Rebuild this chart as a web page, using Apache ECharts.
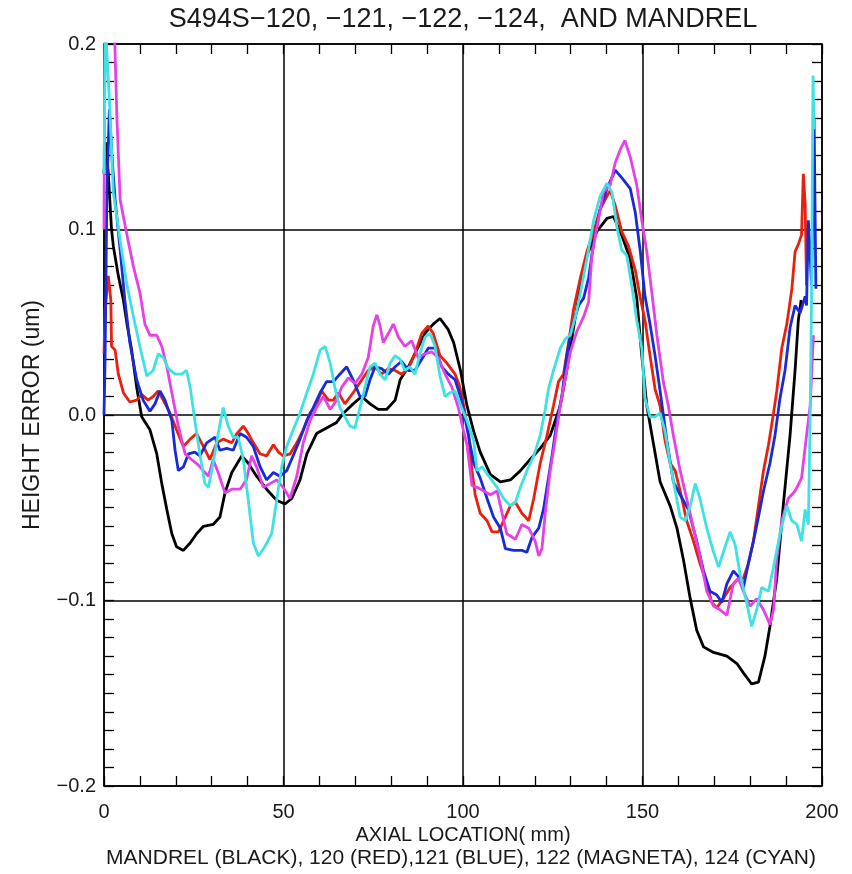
<!DOCTYPE html>
<html>
<head>
<meta charset="utf-8">
<script src="https://cdn.jsdelivr.net/npm/echarts@6/dist/echarts.min.js"></script>
<style>
  html, body { margin: 0; padding: 0; background: #fff; }
  #chart { width: 852px; height: 874px; }
</style>
</head>
<body>
<div id="chart"></div>
<script>
// Height error profiles along the axial location, [mm, um] pairs per part.
const mandrel = [[0,0.13],[0.5,0.147],[1.2,0.13],[2.1,0.10],[2.6,0.091],[4,0.075],[5.4,0.062],[6.5,0.048],[7.7,0.035],[9.1,0.015],[10.5,-0.001],[12.8,-0.008],[14.7,-0.021],[16.1,-0.037],[17.5,-0.051],[18.9,-0.064],[20.2,-0.071],[22.1,-0.073],[24.0,-0.069],[25.8,-0.064],[27.7,-0.060],[30.4,-0.059],[32.3,-0.055],[33.7,-0.042],[35.6,-0.031],[38.4,-0.022],[40.2,-0.026],[42.5,-0.033],[45.3,-0.040],[48.1,-0.046],[50.4,-0.048],[52.3,-0.045],[54.6,-0.035],[56.5,-0.021],[59.2,-0.010],[62.0,-0.007],[64.8,-0.004],[66.7,0.001],[69.4,0.006],[71.8,0.010],[74.1,0.006],[76.4,0.003],[78.7,0.003],[81.1,0.008],[82.5,0.019],[84.8,0.026],[87.1,0.035],[89.4,0.044],[91.7,0.049],[93.6,0.052],[95.9,0.046],[97.4,0.039],[99.3,0.024],[101.1,0.005],[103.0,-0.009],[104.8,-0.020],[107.6,-0.032],[110.4,-0.036],[113.2,-0.035],[116.0,-0.030],[118.7,-0.024],[121.5,-0.018],[124.3,-0.011],[127.1,0.005],[128.9,0.024],[130.8,0.047],[132.7,0.070],[134.5,0.086],[137.3,0.099],[140.1,0.106],[141.9,0.107],[144.2,0.097],[146.6,0.084],[148.4,0.063],[149.8,0.032],[151.2,0.005],[153.1,-0.016],[154.9,-0.036],[157.7,-0.049],[159.6,-0.061],[161.4,-0.078],[163.3,-0.099],[165.1,-0.116],[167.0,-0.125],[169.8,-0.128],[173.5,-0.130],[176.3,-0.134],[178.1,-0.139],[180.4,-0.145],[182.3,-0.144],[184.1,-0.130],[185.5,-0.114],[187.4,-0.088],[189.2,-0.049],[191.1,-0.011],[192.5,0.024],[193.4,0.051],[194.2,0.062]];

const part120 = [[0,0.033],[0.3,0.057],[1.2,0.075],[1.9,0.062],[2.1,0.037],[3.1,0.035],[4.0,0.022],[5.4,0.012],[7.2,0.007],[9.1,0.008],[10.5,0.011],[12.3,0.008],[13.7,0.010],[15.1,0.013],[16.5,0.008],[18.4,0.001],[20.2,-0.008],[22.1,-0.017],[24.0,-0.013],[25.8,-0.010],[27.7,-0.017],[29.5,-0.024],[31.4,-0.015],[33.2,-0.013],[35.6,-0.015],[37.0,-0.010],[38.8,-0.006],[40.2,-0.010],[41.6,-0.015],[43.5,-0.021],[45.3,-0.022],[47.2,-0.016],[48.6,-0.020],[49.9,-0.022],[51.8,-0.021],[53.7,-0.015],[55.5,-0.008],[57.4,0.001],[59.2,0.006],[60.6,0.013],[62.5,0.008],[63.9,0.008],[65.3,0.012],[67.1,0.006],[69.4,0.012],[71.8,0.019],[73.6,0.024],[75.5,0.026],[77.3,0.022],[79.2,0.025],[81.1,0.024],[82.9,0.022],[84.8,0.025],[86.6,0.033],[88.5,0.044],[90.3,0.048],[91.7,0.044],[93.6,0.032],[95.5,0.028],[97.8,0.022],[99.0,0.016],[100.2,0.005],[101.6,-0.011],[102.5,-0.030],[103.4,-0.043],[104.8,-0.053],[106.7,-0.057],[108.1,-0.063],[109.9,-0.063],[111.3,-0.057],[113.2,-0.049],[114.6,-0.047],[116.4,-0.053],[118.3,-0.057],[119.7,-0.045],[121.5,-0.026],[123.4,-0.011],[125.2,0.005],[126.6,0.018],[128.0,0.022],[129.4,0.039],[130.8,0.057],[132.7,0.074],[134.5,0.088],[136.4,0.099],[138.2,0.111],[140.1,0.118],[141.0,0.121],[142.4,0.113],[144.2,0.099],[146.1,0.091],[148.0,0.078],[149.4,0.063],[150.7,0.051],[152.1,0.032],[153.5,0.014],[154.9,0.005],[156.3,-0.014],[157.7,-0.026],[159.1,-0.030],[160.5,-0.041],[162.3,-0.057],[164.2,-0.068],[166.0,-0.080],[167.9,-0.091],[169.3,-0.101],[170.7,-0.104],[172.5,-0.099],[174.4,-0.093],[176.3,-0.089],[178.1,-0.088],[179.5,-0.080],[180.9,-0.068],[182.3,-0.049],[183.7,-0.030],[185.1,-0.016],[186.5,0.001],[187.4,0.013],[188.8,0.036],[190.2,0.049],[191.6,0.068],[192.5,0.088],[193.4,0.092],[194.3,0.097],[194.8,0.130],[195.3,0.114],[195.7,0.070]];

const part121 = [[0,0.0],[0.3,0.03],[0.8,0.12],[1.5,0.165],[2.2,0.14],[3.1,0.116],[4.5,0.089],[5.8,0.062],[7.2,0.039],[9.1,0.019],[10.9,0.008],[12.8,0.002],[14.2,0.006],[15.6,0.013],[17.0,0.008],[18.9,-0.003],[19.8,-0.019],[20.7,-0.030],[22.1,-0.028],[23.5,-0.021],[25.3,-0.020],[26.7,-0.022],[28.6,-0.015],[30.9,-0.012],[32.3,-0.019],[34.2,-0.018],[36.0,-0.019],[37.9,-0.010],[39.7,-0.012],[41.6,-0.017],[43.5,-0.028],[45.3,-0.035],[47.2,-0.031],[49.0,-0.033],[50.9,-0.030],[52.7,-0.022],[54.6,-0.013],[56.5,-0.003],[58.3,0.004],[60.2,0.012],[62.0,0.018],[63.9,0.018],[65.7,0.022],[67.6,0.026],[69.4,0.019],[71.3,0.010],[72.7,0.010],[74.1,0.019],[75.5,0.026],[77.3,0.025],[79.2,0.022],[81.1,0.026],[82.9,0.029],[84.8,0.024],[86.6,0.024],[88.5,0.030],[90.3,0.036],[92.2,0.036],[94.1,0.026],[95.9,0.022],[97.8,0.019],[99.6,0.008],[101.1,-0.007],[103.0,-0.026],[104.8,-0.034],[106.7,-0.045],[108.5,-0.055],[110.4,-0.061],[111.8,-0.072],[114.1,-0.073],[116.4,-0.073],[117.8,-0.074],[119.2,-0.066],[121.1,-0.061],[122.4,-0.051],[123.4,-0.039],[124.8,-0.022],[126.2,-0.003],[127.6,0.011],[128.9,0.032],[130.3,0.047],[132.2,0.059],[133.6,0.063],[135.0,0.074],[136.4,0.093],[138.2,0.111],[140.1,0.122],[142.4,0.132],[144.2,0.128],[146.6,0.122],[148.0,0.109],[149.4,0.088],[150.7,0.064],[152.1,0.049],[153.5,0.032],[154.9,0.013],[156.8,-0.014],[158.6,-0.036],[160.5,-0.043],[162.8,-0.051],[165.1,-0.068],[167.0,-0.084],[168.8,-0.095],[170.7,-0.097],[172.1,-0.101],[173.5,-0.091],[175.3,-0.084],[176.7,-0.087],[178.1,-0.093],[179.5,-0.080],[180.9,-0.068],[182.3,-0.055],[183.7,-0.041],[185.5,-0.026],[186.9,-0.011],[188.3,0.009],[189.7,0.024],[191.1,0.047],[192.5,0.059],[193.9,0.055],[195.3,0.064],[195.7,0.059],[196.2,0.105],[197.1,0.070],[197.8,0.16],[198.3,0.068]];

const part122 = [[0,0.10],[0.3,0.23],[2.8,0.215],[3.6,0.16],[4.5,0.116],[6.3,0.098],[8.2,0.080],[10.0,0.066],[11.4,0.049],[12.8,0.043],[14.7,0.043],[16.1,0.037],[17.5,0.026],[18.9,0.012],[20.7,-0.006],[22.6,-0.021],[24.4,-0.024],[26.3,-0.027],[28.1,-0.031],[29.1,-0.033],[30.4,-0.024],[31.8,-0.031],[33.7,-0.042],[35.6,-0.040],[37.9,-0.040],[39.7,-0.035],[41.1,-0.022],[42.5,-0.028],[44.4,-0.039],[46.2,-0.037],[48.1,-0.035],[49.9,-0.039],[51.8,-0.045],[53.7,-0.033],[55.5,-0.015],[57.4,-0.003],[59.2,0.004],[61.1,0.010],[63.0,0.003],[64.8,0.008],[66.2,0.015],[68.1,0.020],[69.9,0.017],[71.8,0.022],[73.6,0.031],[75.0,0.048],[76.0,0.054],[76.9,0.048],[77.8,0.039],[79.2,0.044],[80.6,0.049],[82.0,0.042],[83.8,0.037],[85.7,0.040],[87.5,0.031],[89.4,0.033],[91.3,0.034],[93.1,0.031],[95.0,0.022],[96.9,0.015],[98.7,0.004],[100.2,-0.009],[101.1,-0.016],[102.5,-0.038],[103.9,-0.039],[105.8,-0.041],[107.6,-0.043],[109.5,-0.041],[110.9,-0.053],[112.2,-0.064],[114.6,-0.067],[116.4,-0.059],[118.3,-0.061],[120.1,-0.068],[121.1,-0.076],[122.0,-0.072],[122.9,-0.053],[124.3,-0.030],[125.7,-0.013],[127.1,0.005],[128.5,0.020],[129.9,0.034],[131.7,0.045],[133.6,0.053],[135.0,0.061],[135.9,0.086],[137.3,0.101],[139.1,0.120],[141.0,0.124],[142.4,0.136],[143.8,0.143],[145.1,0.148],[146.6,0.139],[148.4,0.124],[149.8,0.105],[151.2,0.088],[152.6,0.066],[154.0,0.043],[155.8,0.018],[157.2,0.005],[158.6,-0.011],[160.5,-0.030],[162.3,-0.045],[164.2,-0.061],[166.0,-0.076],[167.9,-0.095],[169.8,-0.103],[171.6,-0.105],[173.5,-0.108],[175.3,-0.091],[176.7,-0.088],[178.1,-0.095],[180.0,-0.103],[181.8,-0.099],[183.7,-0.105],[185.5,-0.113],[186.5,-0.105],[187.4,-0.078],[188.8,-0.057],[190.6,-0.045],[192.5,-0.041],[194.3,-0.034],[195.7,-0.011],[196.7,0.005],[197.6,0.043]];

const part124 = [[0,0.13],[0.4,0.21],[1.5,0.17],[2.6,0.12],[4.5,0.094],[6.3,0.071],[8.2,0.053],[10.0,0.037],[11.9,0.021],[13.7,0.024],[15.1,0.033],[16.5,0.031],[17.9,0.025],[19.8,0.022],[21.6,0.022],[23.0,0.024],[24.0,0.015],[25.3,-0.003],[26.7,-0.021],[28.1,-0.037],[29.1,-0.039],[30.4,-0.026],[31.8,-0.010],[33.2,0.004],[34.6,-0.006],[36.0,-0.012],[37.4,-0.012],[38.8,-0.024],[40.2,-0.046],[41.6,-0.069],[43.0,-0.076],[44.8,-0.071],[46.7,-0.064],[48.1,-0.046],[49.5,-0.028],[50.9,-0.017],[52.7,-0.008],[54.6,0.001],[56.5,0.012],[58.3,0.022],[60.2,0.035],[61.6,0.037],[63.0,0.028],[64.3,0.015],[65.7,0.004],[67.1,-0.001],[68.5,-0.006],[69.9,-0.007],[71.3,0.004],[72.7,0.015],[74.1,0.026],[75.5,0.028],[76.9,0.022],[78.3,0.019],[79.7,0.028],[81.1,0.032],[82.5,0.030],[83.8,0.024],[85.2,0.026],[86.6,0.022],[88.0,0.033],[89.4,0.042],[90.8,0.044],[92.2,0.037],[93.6,0.021],[95.0,0.010],[96.4,0.012],[97.8,0.013],[99.6,0.004],[101.1,-0.003],[103.0,-0.014],[103.9,-0.030],[105.3,-0.028],[107.6,-0.034],[109.5,-0.039],[111.3,-0.045],[113.2,-0.049],[114.6,-0.047],[116.0,-0.039],[117.8,-0.030],[119.7,-0.022],[121.5,-0.011],[122.9,0.003],[123.8,0.014],[125.2,0.024],[127.1,0.036],[128.5,0.041],[129.9,0.043],[131.3,0.053],[132.7,0.066],[134.5,0.084],[136.4,0.105],[138.2,0.118],[140.1,0.125],[141.5,0.120],[142.9,0.101],[144.2,0.089],[145.6,0.086],[147.0,0.070],[148.4,0.051],[149.8,0.036],[150.7,0.009],[152.1,-0.001],[153.5,-0.001],[154.9,0.001],[156.3,-0.009],[157.7,-0.026],[159.1,-0.041],[160.5,-0.055],[161.9,-0.057],[163.3,-0.049],[164.7,-0.037],[166.0,-0.045],[167.9,-0.061],[169.8,-0.074],[171.2,-0.082],[172.5,-0.074],[174.4,-0.063],[175.8,-0.070],[177.2,-0.086],[179.0,-0.101],[180.4,-0.114],[181.8,-0.105],[183.2,-0.093],[185.1,-0.095],[186.5,-0.082],[188.3,-0.064],[190.2,-0.049],[191.6,-0.057],[193.0,-0.059],[194.3,-0.068],[195.3,-0.051],[196.2,-0.059],[196.7,-0.001],[197.1,0.066],[197.5,0.183],[197.8,0.154]];

const seriesNames = ['MANDREL', '120', '121', '122', '124'];
const seriesColors = ['#000000', '#e8200c', '#1a2ad6', '#e640e6', '#3ee2e2'];
const seriesData = [mandrel, part120, part121, part122, part124];

const xTicks = [0, 50, 100, 150, 200];
const yTicks = [-0.2, -0.1, 0.0, 0.1, 0.2];

const titleText = 'S494S\u2212120, \u2212121, \u2212122, \u2212124,  AND MANDREL';
const xName = 'AXIAL LOCATION( mm)';
const yName = 'HEIGHT ERROR (um)';
const keyText = 'MANDREL (BLACK), 120 (RED),121 (BLUE), 122 (MAGNETA), 124 (CYAN)';

const FONT = "'Liberation Sans', Arial, sans-serif";
const INK = '#1a1a1a';

const chart = echarts.init(document.getElementById('chart'), null, { renderer: 'canvas' });

// Boxed frame: every side carries inward major and minor ticks.
function frameAxis(extra) {
  return Object.assign({
    type: 'value',
    axisLine: { show: true, onZero: false, lineStyle: { color: '#000', width: 1.5 } },
    axisTick: { show: true, inside: true, length: 10, lineStyle: { color: '#000', width: 1.3 } },
    minorTick: { show: true, length: 10, lineStyle: { color: '#000', width: 1.3 } },
    splitLine: { show: false },
    axisLabel: { show: false }
  }, extra);
}

chart.setOption({
  animation: false,
  backgroundColor: '#ffffff',
  grid: { left: 104, right: 30, top: 44, bottom: 88, containLabel: false },
  xAxis: [
    frameAxis({
      position: 'bottom', min: xTicks[0], max: xTicks[xTicks.length - 1], interval: 50,
      minorTick: { show: true, splitNumber: 5, length: 10, lineStyle: { color: '#000', width: 1.3 } },
      splitLine: { show: true, lineStyle: { color: '#000', width: 1.5 } },
      axisLabel: { show: true, margin: 16, fontSize: 20, color: INK, fontFamily: FONT }
    }),
    frameAxis({
      position: 'top', min: xTicks[0], max: xTicks[xTicks.length - 1], interval: 50,
      minorTick: { show: true, splitNumber: 5, length: 10, lineStyle: { color: '#000', width: 1.3 } }
    })
  ],
  yAxis: [
    frameAxis({
      position: 'left', min: yTicks[0], max: yTicks[yTicks.length - 1], interval: 0.1,
      minorTick: { show: true, splitNumber: 10, length: 10, lineStyle: { color: '#000', width: 1.3 } },
      splitLine: { show: true, lineStyle: { color: '#000', width: 1.5 } },
      axisLabel: {
        show: true, margin: 8, fontSize: 20, color: INK, fontFamily: FONT,
        formatter: v => (v < 0 ? '\u2212' : '') + Math.abs(v).toFixed(1)
      }
    }),
    frameAxis({
      position: 'right', min: yTicks[0], max: yTicks[yTicks.length - 1], interval: 0.1,
      minorTick: { show: true, splitNumber: 10, length: 10, lineStyle: { color: '#000', width: 1.3 } }
    })
  ],
  graphic: [
    { type: 'text', x: 463, y: 20, style: { text: titleText, fontSize: 27, fontFamily: FONT, fill: INK, textAlign: 'center', textVerticalAlign: 'middle' } },
    { type: 'text', x: 463, y: 835, style: { text: xName, fontSize: 20, fontFamily: FONT, fill: INK, textAlign: 'center', textVerticalAlign: 'middle' } },
    { type: 'text', x: 461, y: 858, style: { text: keyText, fontSize: 21, fontFamily: FONT, fill: INK, textAlign: 'center', textVerticalAlign: 'middle' } },
    { type: 'text', x: 33, y: 415, rotation: Math.PI / 2, style: { text: yName, fontSize: 23, fontFamily: FONT, fill: INK, textAlign: 'center', textVerticalAlign: 'middle' } }
  ],
  series: seriesData.map((d, i) => ({
    name: seriesNames[i],
    type: 'line',
    xAxisIndex: 0,
    yAxisIndex: 0,
    data: d,
    showSymbol: false,
    clip: true,
    lineStyle: { color: seriesColors[i], width: 2.8 },
    z: 3 + i
  }))
});
</script>
</body>
</html>
